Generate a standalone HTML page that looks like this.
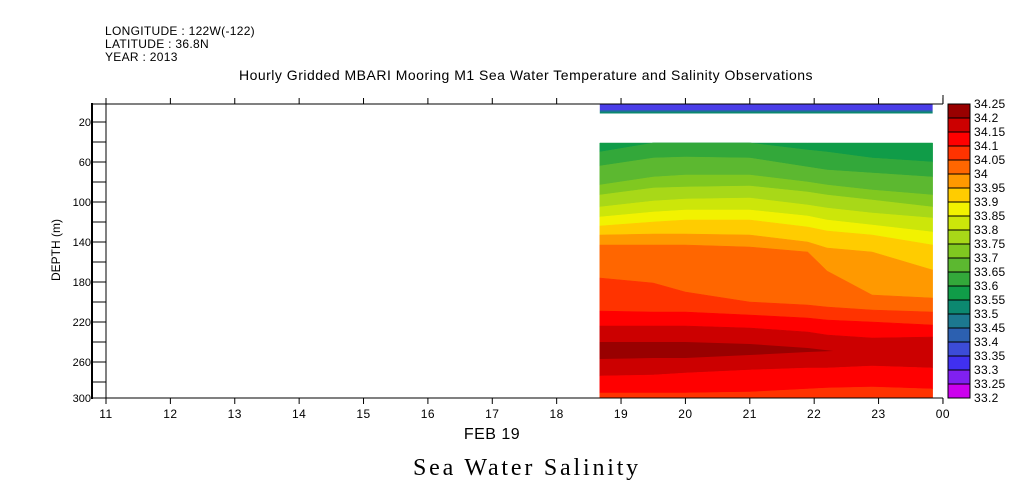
<!DOCTYPE html>
<html><head><meta charset="utf-8"><style>
body{margin:0;background:#fff;width:1009px;height:504px;overflow:hidden}
svg{display:block}
text{font-family:"Liberation Sans",sans-serif;fill:#000}
</style></head><body>
<svg id="chart" width="1009" height="504">
<text x="105" y="35" font-size="12" letter-spacing="0.3">LONGITUDE : 122W(-122)</text>
<text x="105" y="48" font-size="12" letter-spacing="0.3">LATITUDE : 36.8N</text>
<text x="105" y="61" font-size="12" letter-spacing="0.3">YEAR : 2013</text>
<text x="526" y="80" font-size="14" letter-spacing="0.5" text-anchor="middle">Hourly Gridded MBARI Mooring M1 Sea Water Temperature and Salinity Observations</text>
<text x="492" y="439" font-size="16" letter-spacing="0.5" text-anchor="middle">FEB 19</text>
<text x="527" y="475" font-size="24" letter-spacing="2.8" text-anchor="middle" style="font-family:'Liberation Serif',serif">Sea Water Salinity</text>
<text transform="translate(60,250) rotate(-90)" font-size="12" text-anchor="middle">DEPTH (m)</text>
<g id="plot"></g>
</svg>
<script>
const times=[18.67,19.5,20.0,21.0,21.9,22.2,22.9,23.84];
const boundaries=[
[41,41,41,41,41,41,41,41],
[50,41,41,41,48,50,56,60],
[64,56,55,56,65,68,71,75],
[83,75,73,73,80,83,88,93],
[93,86,85,84,90,93,98,105],
[105,99,97,96,103,106,111,116],
[115,110,108,108,114,118,123,130],
[124,120,118,118,125,129,133,143],
[133,132,132,133,140,146,150,168],
[143,143,143,145,150,169,193,196],
[176,181,190,200,203,205,208,210],
[209,210,210,213,216,218,220,223],
[224,224,224,226,230,233,236,235],
[274,273,271,268,266,266,264,266],
[291,291,291,290,287,286,285,287],
[296,296,296,296,296,296,296,296]];
const bandColors=["#109c48","#33a83a","#5cb830","#80c820","#a8d818","#cce60a","#f2f200","#ffcc00","#ff9900","#ff6600","#ff3300","#ff0000","#cc0000","#ff0000","#ff3300"];
const coreTimes=[18.67,19.5,20.0,21.0,21.9,22.3];
const coreTop=[240,240,240,242,246,249];
const coreBottom=[257,256,256,253,250,249];
const levels=["34.25","34.2","34.15","34.1","34.05","34","33.95","33.9","33.85","33.8","33.75","33.7","33.65","33.6","33.55","33.5","33.45","33.4","33.35","33.3","33.25","33.2"];
const levelColors=["#990000","#cc0000","#ff0000","#ff3300","#ff6600","#ff9900","#ffcc00","#f2f200","#cce60a","#a8d818","#80c820","#5cb830","#33a83a","#109c48","#0c8870","#1c7890","#2c60b0","#3c4cd8","#4030f0","#8020f0","#cc00ee"];
const xTicks=[11,12,13,14,15,16,17,18,19,20,21,22,23,24];
const xTickLabels=["11","12","13","14","15","16","17","18","19","20","21","22","23","00"];
const yTicks=[20,60,100,140,180,220,260,300];

const NS="http://www.w3.org/2000/svg";
const g=document.getElementById('plot');
const X=t=>106+(t-11)*64.38;
const Y=d=>102+d;
function mk(tag,attrs,parent){const e=document.createElementNS(NS,tag);for(const k in attrs)e.setAttribute(k,attrs[k]);(parent||g).appendChild(e);return e;}

const s1=mk('rect',{x:X(18.67),y:104,width:X(23.84)-X(18.67),height:6,fill:'#4a3ee8'});


const s2=mk('rect',{x:X(18.67),y:110,width:X(23.84)-X(18.67),height:1.5,fill:'#2c60b0'});


const s3=mk('rect',{x:X(18.67),y:111.5,width:X(23.84)-X(18.67),height:2,fill:'#0c8870'});



for(let b=0;b<bandColors.length;b++){
  const top=boundaries[b],bot=boundaries[b+1];
  let pts=times.map((t,i)=>X(t)+','+Y(top[i]));
  for(let i=times.length-1;i>=0;i--)pts.push(X(times[i])+','+Y(bot[i]));
  const p=mk('polygon',{points:pts.join(' '),fill:bandColors[b],stroke:bandColors[b],'stroke-width':0.5});
  
  
}
{
  let pts=coreTimes.map((t,i)=>X(t)+','+Y(coreTop[i]));
  for(let i=coreTimes.length-1;i>=0;i--)pts.push(X(coreTimes[i])+','+Y(coreBottom[i]));
  const p=mk('polygon',{points:pts.join(' '),fill:'#990000'});
  
  
}
const frame=mk('path',{d:'M92,104 H943 M106,104 V398 M92,398 H943 M943,95 V104 M943,398 V403',stroke:'#000','stroke-width':1,fill:'none'});


const la=mk('line',{x1:92,y1:103,x2:92,y2:399,stroke:'#000','stroke-width':2});


xTicks.forEach((t,i)=>{
  const x=X(t);
  mk('line',{x1:x,y1:98,x2:x,y2:104,stroke:'#000'});
  mk('line',{x1:x,y1:398,x2:x,y2:404,stroke:'#000'});
  const tx=mk('text',{x:x,y:418,'font-size':12,'letter-spacing':0.5,'text-anchor':'middle'});
  tx.textContent=xTickLabels[i];
  
  
});
for(let d=20;d<=300;d+=20){mk('line',{x1:92,y1:Math.min(Y(d),398),x2:106,y2:Math.min(Y(d),398),stroke:'#000'});}
yTicks.forEach(d=>{
  const tx=mk('text',{x:91,y:Math.min(Y(d),398)+4,'font-size':11,'text-anchor':'end'});
  tx.textContent=d;
  
  
});
const bh=294/levelColors.length;
levelColors.forEach((c,i)=>{
  const r=mk('rect',{x:948,y:104+i*bh,width:22,height:bh,fill:c,stroke:'#000','stroke-width':1});
  
  
});
levels.forEach((l,i)=>{
  const tx=mk('text',{x:974,y:104+i*bh+4,'font-size':12,'letter-spacing':0.3});
  tx.textContent=l;
  
  
});
</script>
</body></html>
